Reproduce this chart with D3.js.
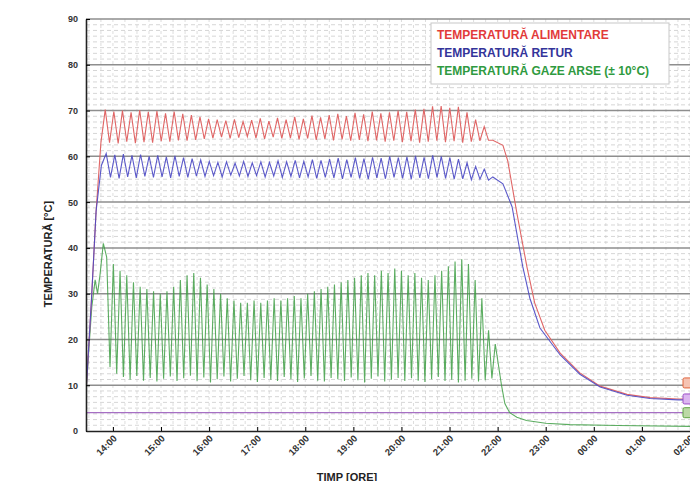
<!DOCTYPE html>
<html>
<head>
<meta charset="utf-8" />
<title>Temperaturi cazan</title>
<script src="https://cdn.jsdelivr.net/npm/d3@7/dist/d3.min.js"></script>
<style>
  body { margin: 0; background: #fff; }
  text { font-family: "Liberation Sans", Arial, sans-serif; font-weight: bold; }
</style>
</head>
<body>
<div id="chart"></div>
<script>
// ---- data (hours, 13.5 = 13:30, 25 = 01:00 next day) ----
var hourTicks = [14, 15, 16, 17, 18, 19, 20, 21, 22, 23, 24, 25, 26];
var hourLabels = ["14:00", "15:00", "16:00", "17:00", "18:00", "19:00", "20:00",
                  "21:00", "22:00", "23:00", "00:00", "01:00", "02:00"];
var yTicks = [0, 10, 20, 30, 40, 50, 60, 70, 80, 90];
var legendNames = ["TEMPERATURĂ ALIMENTARE", "TEMPERATURĂ RETUR", "TEMPERATURĂ GAZE ARSE (± 10°C)"];

// tur (alimentare)
var redRise = [[13.45, 10], [13.55, 28], [13.65, 48], [13.75, 63]];
var redOscStart = 13.84, redOscEnd = 21.9;
var redPeaks = [70.2, 69.8, 70.0, 69.6, 70.1, 69.7, 69.9, 69.4, 69.8, 69.3, 69.0,
                68.6, 68.2, 68.0, 67.8, 68.1, 67.6, 67.9, 68.3, 67.7, 68.4, 68.0, 68.6, 68.2, 68.9, 68.5,
                69.0, 69.3, 68.8, 69.5, 69.2, 69.8, 69.4, 69.6, 70.0, 69.7, 70.2, 70.4, 70.9, 71.0, 70.6, 70.8, 69.6, 68.0, 66.5];
var redTroughs = [63.0, 62.8, 63.2, 62.9, 63.1, 63.0, 63.3, 63.2, 63.5, 63.4, 63.6,
                  63.8, 64.0, 64.2, 63.9, 64.1, 64.3, 64.0, 63.8, 64.2, 63.9, 64.0, 63.7, 63.9, 63.6, 63.8,
                  63.5, 63.7, 63.4, 63.6, 63.3, 63.5, 63.2, 63.4, 63.1, 63.3, 63.0, 63.2, 63.4, 63.1, 63.3, 63.0, 63.2, 63.4, 63.5];
var redFall = [[21.9, 63.5], [22.11, 62.4], [22.21, 59], [22.4, 47.6], [22.61, 35.8], [22.77, 28],
               [22.98, 22], [23.3, 17], [23.71, 12.7], [24.13, 9.8], [24.69, 8.0], [25.17, 7.3], [25.75, 7.0], [26, 7.0]];

// retur
var blueRise = [[13.45, 10], [13.55, 28], [13.65, 48], [13.76, 58]];
var blueOscStart = 13.86, blueOscEnd = 21.9;
var bluePeaks = [60.6, 60.3, 60.5, 60.2, 60.4, 60.0, 60.2, 59.9, 60.1, 59.7, 59.5,
                 59.2, 58.9, 58.7, 58.8, 58.5, 58.9, 58.6, 58.8, 58.7, 59.0, 58.8, 59.1, 58.9, 59.3, 59.1,
                 59.4, 59.6, 59.3, 59.7, 59.5, 59.8, 59.6, 60.0, 59.7, 59.9, 60.1, 59.8, 60.2, 60.0, 59.7, 59.4, 58.6, 57.8, 57.2];
var blueTroughs = [55.4, 55.2, 55.5, 55.3, 55.6, 55.4, 55.5, 55.3, 55.6, 55.4, 55.7,
                   55.6, 55.8, 55.5, 55.9, 55.7, 55.6, 55.8, 55.5, 55.7, 55.4, 55.6, 55.3, 55.5, 55.2, 55.4,
                   55.3, 55.1, 55.4, 55.2, 55.0, 55.3, 55.1, 55.4, 55.2, 55.0, 55.3, 55.1, 55.4, 55.2, 55.0, 55.1, 54.9, 55.0, 54.8];
var blueFall = [[21.9, 55.5], [22.11, 54], [22.3, 49], [22.52, 36], [22.67, 29], [22.88, 22.5],
                [23.3, 16.6], [23.71, 12.4], [24.13, 9.6], [24.69, 7.8], [25.17, 7.1], [25.75, 6.8], [26, 6.8]];

// gaze arse
var greenRise = [[13.45, 10], [13.5, 18], [13.56, 27], [13.63, 33], [13.68, 30], [13.73, 34], [13.80, 41]];
var greenOscStart = 13.80, greenOscEnd = 22.02;
var greenTroughs = [17, 14, 12.5, 11.8, 11.2, 12.0, 11.0, 11.6, 10.8, 11.4, 11.9, 10.9, 11.5, 12.1, 11.0,
                    11.7, 10.6, 11.3, 11.9, 10.8, 11.4, 12.0, 11.1, 10.7, 11.6, 11.2, 10.9, 11.8, 11.3, 10.7,
                    11.5, 12.0, 11.0, 10.8, 11.6, 11.3, 10.9, 11.7, 11.1, 10.6, 11.4, 11.9, 10.8, 11.2, 11.6,
                    10.9, 11.5, 11.0, 10.7, 11.3, 11.8, 10.9, 11.2, 10.6, 11.0, 11.4, 10.8, 11.1, 11.5];
var greenPeaks = [38, 36.5, 35, 34, 32.5, 31.5, 31, 30.5, 30, 30.5, 31.5, 33, 34, 34.5, 33.5,
                  32, 31, 30, 29, 28.5, 28, 28, 28.5, 28, 28.5, 29, 28.5, 29, 29.5, 29,
                  30, 30.5, 31, 31.5, 32, 32.5, 33, 33.5, 34, 34.5, 34, 35, 34.5, 35.5, 35,
                  34, 34.5, 33.5, 33, 34, 35, 36, 37, 37.5, 36.5, 33, 29, 22, 19];
var greenFall = [[22.08, 10], [22.15, 6], [22.25, 4], [22.4, 3], [22.6, 2.3], [23.0, 1.7],
                 [23.5, 1.4], [24.5, 1.2], [26, 1.0]];

var refLine = 4;

// ---- layout ----
var width = 690, height = 481;
var padL = 86, padR = 690, padT = 19, padB = 431;

var svg = d3.select('#chart').append('svg')
    .attr('width', width)
    .attr('height', height);

var x = d3.scaleLinear().domain([13.44, 26]).range([padL, padR]);
var y = d3.scaleLinear().domain([0, 90]).range([padB, padT]);

// trough/peak pairs laid out evenly between start and end
function oscillate(start, end, a, b) {
    var n = a.length, p = (end - start) / n, pts = [];
    for (var i = 0; i < n; i++) {
        pts.push([start + i * p, a[i]]);
        pts.push([start + (i + 0.5) * p, b[i]]);
    }
    return pts;
}

var red = redRise.concat(oscillate(redOscStart, redOscEnd, redPeaks, redTroughs), redFall);
var blue = blueRise.concat(oscillate(blueOscStart, blueOscEnd, bluePeaks, blueTroughs), blueFall);
var green = greenRise.concat(oscillate(greenOscStart, greenOscEnd, greenTroughs, greenPeaks).slice(1), greenFall);

// ---- grid ----
var grid = svg.append('g');
grid.selectAll('.vminor')
    .data(d3.range(13.5, 26.01, 0.25))
    .enter().append('line')
    .attr('x1', d => x(d)).attr('x2', d => x(d))
    .attr('y1', padT).attr('y2', padB)
    .attr('stroke', '#cfcfcf').attr('stroke-width', 0.7)
    .attr('stroke-dasharray', '3,3');

grid.selectAll('.hminor')
    .data(d3.range(0, 90, 1.25).filter(d => d % 10 !== 0))
    .enter().append('line')
    .attr('x1', padL).attr('x2', padR)
    .attr('y1', d => y(d)).attr('y2', d => y(d))
    .attr('stroke', '#c4c4c4').attr('stroke-width', 0.7)
    .attr('stroke-dasharray', '4,3');

grid.selectAll('.hmajor')
    .data(yTicks.slice(1))
    .enter().append('line')
    .attr('x1', padL).attr('x2', padR)
    .attr('y1', d => y(d)).attr('y2', d => y(d))
    .attr('stroke', '#8e8e8e').attr('stroke-width', 1.5);

svg.append('line')
    .attr('x1', padL).attr('x2', padR)
    .attr('y1', y(refLine)).attr('y2', y(refLine))
    .attr('stroke', '#a66fc4').attr('stroke-width', 1.2);

// ---- series ----
var line = d3.line().x(d => x(d[0])).y(d => y(d[1]));

svg.append('path').datum(green)
    .attr('fill', 'none').attr('stroke', '#3f9f45').attr('stroke-width', 1.1)
    .attr('stroke-opacity', 0.85).attr('d', line);
svg.append('path').datum(red)
    .attr('fill', 'none').attr('stroke', '#e06666').attr('stroke-width', 1.1)
    .attr('d', line);
svg.append('path').datum(blue)
    .attr('fill', 'none').attr('stroke', '#4a48c4').attr('stroke-width', 1.1)
    .attr('stroke-opacity', 0.9).attr('d', line);

// ---- axes ----
var yAxis = d3.axisLeft(y).tickValues(yTicks).tickSize(-4).tickSizeOuter(0).tickPadding(8);
var gY = svg.append('g')
    .attr('transform', 'translate(' + padL + ',0)')
    .call(yAxis);
gY.select('.domain').attr('stroke', '#222').attr('stroke-width', 1.6);
gY.selectAll('text').attr('font-size', 9).attr('fill', '#333');

var xAxis = d3.axisBottom(x).tickValues(hourTicks).tickSize(-4).tickSizeOuter(0)
    .tickFormat((d, i) => hourLabels[i]);
var gX = svg.append('g')
    .attr('transform', 'translate(0,' + padB + ')')
    .call(xAxis);
gX.select('.domain').attr('stroke', '#222').attr('stroke-width', 1.6);
gX.selectAll('text')
    .attr('font-size', 9.5).attr('fill', '#333')
    .attr('x', 0).attr('y', 0).attr('dy', 0)
    .attr('text-anchor', 'end')
    .attr('transform', 'translate(4,8) rotate(-45)');

svg.append('text')
    .attr('transform', 'translate(52,254) rotate(-90)')
    .attr('text-anchor', 'middle')
    .attr('font-size', 11).attr('fill', '#222')
    .text('TEMPERATURĂ [°C]');

svg.append('text')
    .attr('x', 347).attr('y', 481)
    .attr('text-anchor', 'middle')
    .attr('font-size', 11).attr('fill', '#222')
    .text('TIMP [ORE]');

// ---- legend ----
var legColors = ['#e23a3a', '#34349a', '#2f9a40'];
var leg = svg.append('g');
leg.append('rect')
    .attr('x', 431).attr('y', 23).attr('width', 238).attr('height', 61)
    .attr('fill', '#fff').attr('stroke', '#c8c8c8');
leg.selectAll('text')
    .data(legendNames)
    .enter().append('text')
    .attr('x', 437)
    .attr('y', (d, i) => 39 + i * 18)
    .attr('font-size', 12)
    .attr('fill', (d, i) => legColors[i])
    .text(d => d);

// ---- end labels (cut at the right edge) ----
var tagFill = ['#f6c3b3', '#dcb6f0', '#bcd9a6'];
var tagStroke = ['#e0643c', '#9a4cc6', '#5fa444'];
var tagVals = [10.5, 7, 4];
svg.selectAll('.tag')
    .data(tagVals)
    .enter().append('rect')
    .attr('x', 683).attr('y', d => y(d) - 5)
    .attr('width', 12).attr('height', 10)
    .attr('rx', 1.5)
    .attr('fill', (d, i) => tagFill[i])
    .attr('stroke', (d, i) => tagStroke[i]);
</script>
</body>
</html>
